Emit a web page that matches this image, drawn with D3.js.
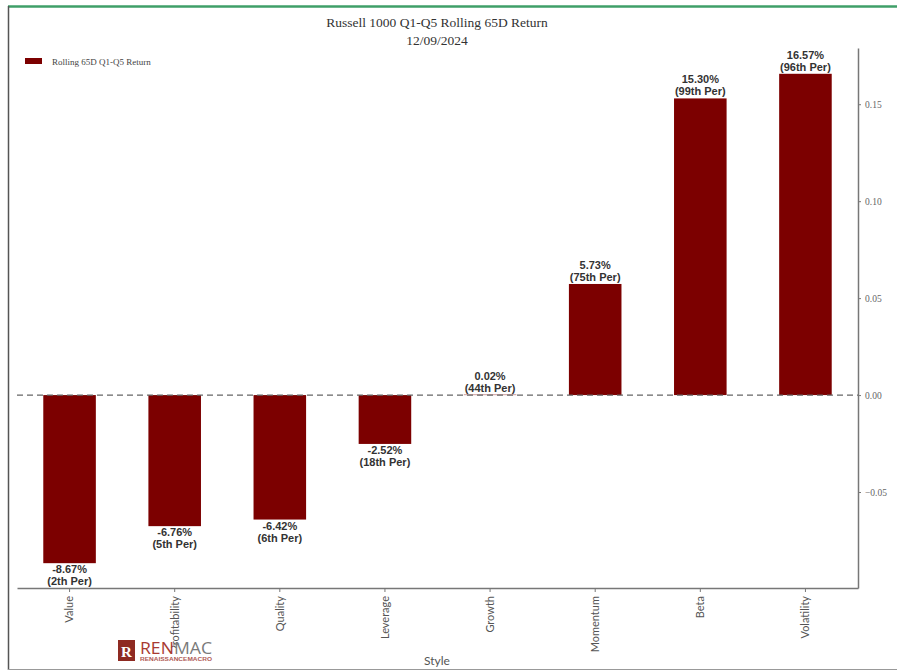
<!DOCTYPE html>
<html>
<head>
<meta charset="utf-8">
<script src="https://cdn.jsdelivr.net/npm/d3@7"></script>
<style>
  html, body { margin: 0; padding: 0; background: #fff; }
  svg { display: block; }
</style>
</head>
<body>
<svg id="chart" width="897" height="671"></svg>
<script>
const categories = ["Value", "Profitability", "Quality", "Leverage", "Growth", "Momentum", "Beta", "Volatility"];
const returns = [-0.0867, -0.0676, -0.0642, -0.0252, 0.0002, 0.0573, 0.1530, 0.1657];
const returnLabels = ["-8.67%", "-6.76%", "-6.42%", "-2.52%", "0.02%", "5.73%", "15.30%", "16.57%"];
const percentileLabels = ["(2th Per)", "(5th Per)", "(6th Per)", "(18th Per)", "(44th Per)", "(75th Per)", "(99th Per)", "(96th Per)"];
const yTicks = [-0.05, 0.00, 0.05, 0.10, 0.15];
const yDomain = [-0.0995, 0.179];

const svg = d3.select("#chart");
const W = 897, H = 671;
const plot = { left: 17, right: 858, top: 48, bottom: 588 };

// frame
svg.append("line").attr("x1", 8).attr("x2", W).attr("y1", 6.5).attr("y2", 6.5)
  .attr("stroke", "#3f9f68").attr("stroke-width", 2.5);
svg.append("line").attr("x1", 8.5).attr("x2", 8.5).attr("y1", 6).attr("y2", 670)
  .attr("stroke", "#555").attr("stroke-width", 1.5);
svg.append("line").attr("x1", 8).attr("x2", W).attr("y1", 669.5).attr("y2", 669.5)
  .attr("stroke", "#999").attr("stroke-width", 1.2);

const x = d3.scaleBand().domain(categories).range([plot.left, plot.right]).paddingInner(0.5).paddingOuter(0.25);
const y = d3.scaleLinear().domain(yDomain).range([plot.bottom, plot.top]);

const data = categories.map((c, i) => ({ c, v: returns[i], lab: returnLabels[i], per: percentileLabels[i] }));

// bars
svg.append("g").selectAll("rect").data(data).join("rect")
  .attr("x", d => x(d.c))
  .attr("width", x.bandwidth())
  .attr("y", d => y(Math.max(0, d.v)))
  .attr("height", d => Math.abs(y(d.v) - y(0)))
  .attr("fill", "#7c0000");

// zero dashed line
svg.append("line")
  .attr("x1", plot.left).attr("x2", plot.right)
  .attr("y1", y(0)).attr("y2", y(0))
  .attr("stroke", "#666").attr("stroke-width", 1.2)
  .attr("stroke-dasharray", "6,4");

// bar labels
const labG = svg.append("g")
  .attr("font-family", "'Liberation Sans', Arial, sans-serif")
  .attr("font-weight", "bold").attr("font-size", 11).attr("fill", "#333")
  .attr("text-anchor", "middle");
data.forEach(d => {
  const cx = x(d.c) + x.bandwidth() / 2;
  if (d.v >= 0) {
    const top = y(d.v);
    labG.append("text").attr("x", cx).attr("y", top - 15).text(d.lab);
    labG.append("text").attr("x", cx).attr("y", top - 3).text(d.per);
  } else {
    const bot = y(d.v);
    labG.append("text").attr("x", cx).attr("y", bot + 10).text(d.lab);
    labG.append("text").attr("x", cx).attr("y", bot + 22).text(d.per);
  }
});

// x axis
const xAxis = svg.append("g").attr("transform", `translate(0,${plot.bottom})`)
  .call(d3.axisBottom(x).tickSize(4).tickSizeOuter(0));
xAxis.select(".domain").attr("stroke", "#777").attr("stroke-width", 1.5);
xAxis.selectAll(".tick line").attr("stroke", "#777");
xAxis.selectAll(".tick text")
  .attr("font-family", "Lato, 'Open Sans', sans-serif").attr("font-size", 11).attr("fill", "#555")
  .attr("transform", "rotate(-90)")
  .attr("text-anchor", "end")
  .attr("x", -8).attr("y", 0).attr("dy", "0.35em");

// y axis (right)
const yAxis = svg.append("g").attr("transform", `translate(${plot.right},0)`)
  .call(d3.axisRight(y).tickValues(yTicks).tickFormat(d3.format(".2f")).tickSize(3).tickSizeOuter(0));
yAxis.select(".domain").attr("stroke", "#777").attr("stroke-width", 1.5);
yAxis.selectAll(".tick line").attr("stroke", "#777");
yAxis.selectAll(".tick text")
  .attr("font-family", "'Liberation Serif', 'DejaVu Serif', serif").attr("font-size", 9.5).attr("fill", "#666")
  .attr("x", 7)
  .text(d => (d < 0 ? "\u22120.05" : d3.format(".2f")(d)));

// title
const tG = svg.append("g").attr("font-family", "'Liberation Serif', 'DejaVu Serif', serif")
  .attr("font-size", 13.5).attr("fill", "#333").attr("text-anchor", "middle");
tG.append("text").attr("x", 437).attr("y", 27).text("Russell 1000 Q1-Q5 Rolling 65D Return");
tG.append("text").attr("x", 437).attr("y", 45).text("12/09/2024");

// legend
svg.append("rect").attr("x", 25).attr("y", 58).attr("width", 17).attr("height", 6).attr("fill", "#7c0000");
svg.append("text").attr("x", 52).attr("y", 64.5)
  .attr("font-family", "'Liberation Serif', 'DejaVu Serif', serif").attr("font-size", 9).attr("fill", "#444")
  .text("Rolling 65D Q1-Q5 Return");

// x axis title
svg.append("text").attr("x", 437).attr("y", 665).attr("text-anchor", "middle")
  .attr("font-family", "Lato, 'Open Sans', sans-serif").attr("font-size", 12).attr("fill", "#555")
  .text("Style");

// logo
const logo = svg.append("g");
logo.append("rect").attr("x", 114).attr("y", 648).attr("width", 104).attr("height", 19).attr("fill", "#fff");
logo.append("rect").attr("x", 118).attr("y", 640).attr("width", 17).attr("height", 21).attr("fill", "#8e2a22");
logo.append("text").attr("x", 126.5).attr("y", 657).attr("text-anchor", "middle")
  .attr("font-family", "'Liberation Serif', serif").attr("font-weight", "bold").attr("font-size", 15).attr("fill", "#fff")
  .text("R");
const lt = logo.append("text").attr("x", 140).attr("y", 654)
  .attr("font-family", "'Open Sans', 'Liberation Sans', sans-serif").attr("font-size", 17).attr("textLength", 72)
  .attr("lengthAdjust", "spacingAndGlyphs");
lt.append("tspan").attr("fill", "#a83a32").text("REN");
lt.append("tspan").attr("fill", "#7a7a7a").text("MAC");
logo.append("text").attr("x", 140).attr("y", 661)
  .attr("font-family", "'Liberation Sans', sans-serif").attr("font-size", 4.5).attr("font-weight", "bold")
  .attr("fill", "#b05a55").attr("textLength", 72).attr("lengthAdjust", "spacingAndGlyphs")
  .text("RENAISSANCEMACRO");
</script>
</body>
</html>
